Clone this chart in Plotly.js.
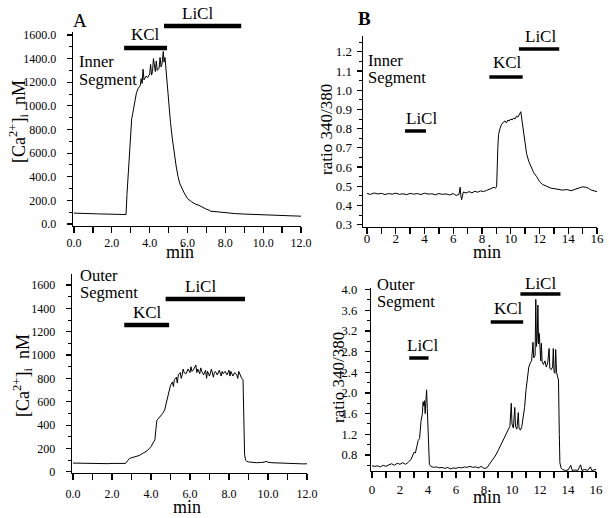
<!DOCTYPE html>
<html>
<head>
<meta charset="utf-8">
<script src="https://cdn.plot.ly/plotly-3.0.1.min.js"></script>
<style>html,body{margin:0;padding:0;background:#fff;}#chart{width:609px;height:518px;}</style>
</head>
<body>
<div id="chart"></div>
<script>
// ---------- DATA ----------
// Panel A, inner segment: time (min) and [Ca2+]i (nM)
const tInnerA = [0,0.2,0.4,0.6,0.8,1.0,1.2,1.4,1.6,1.8,2.0,2.2,2.4,2.6,2.75,2.8,2.9,3.0,3.05,3.1,3.2,3.3,3.4,3.5,3.55,3.6,3.65,3.7,3.8,3.9,4.0,4.05,4.1,4.15,4.2,4.3,4.35,4.4,4.5,4.55,4.6,4.65,4.72,4.76,4.81,4.86,4.9,5.0,5.1,5.2,5.3,5.4,5.5,5.6,5.8,6.0,6.2,6.4,6.6,6.8,7.0,7.15,7.2,7.4,7.6,7.8,8.0,8.5,9.0,9.5,10.0,10.5,11.0,11.5,12.0];
const caInnerA = [92,90,89,88,88,86,86,85,84,84,83,82,81,80,80,250,520,760,890,930,1030,1110,1150,1170,1230,1190,1310,1220,1250,1240,1270,1350,1260,1290,1400,1290,1380,1300,1320,1410,1330,1350,1460,1370,1410,1300,1250,1060,860,720,590,490,400,340,270,215,190,170,158,140,125,118,108,106,102,98,94,88,84,80,76,73,70,68,66];

// Panel A, outer segment
const tOuterA = [0,0.2,0.4,0.6,0.8,1.0,1.2,1.4,1.6,1.8,2.0,2.2,2.4,2.6,2.7,2.8,2.9,3.0,3.2,3.4,3.6,3.8,4.0,4.1,4.2,4.25,4.3,4.4,4.5,4.6,4.7,4.8,4.9,5.0,5.1,5.15,5.2,5.3,5.35,5.4,5.5,5.55,5.6,5.65,5.7,5.8,5.9,6.0,6.05,6.1,6.2,6.3,6.35,6.4,6.5,6.55,6.6,6.7,6.8,6.85,6.9,7.0,7.1,7.2,7.25,7.3,7.4,7.5,7.6,7.65,7.7,7.8,7.9,8.0,8.05,8.1,8.2,8.3,8.4,8.45,8.5,8.6,8.65,8.72,8.76,8.8,8.85,8.9,9.0,9.2,9.4,9.6,9.8,9.9,10.0,10.2,10.4,10.6,10.8,11.0,11.2,11.4,11.6,11.8,12.0];
const caOuterA = [75,74,72,73,70,71,68,66,69,70,72,71,73,72,72,95,115,120,130,140,160,180,215,240,275,360,440,460,480,500,530,600,690,740,770,730,790,810,760,830,850,800,830,880,850,840,880,850,900,860,880,915,850,880,840,890,860,830,870,800,860,820,880,810,850,860,830,870,820,860,840,860,830,870,820,860,820,850,830,800,860,820,800,790,400,150,100,92,85,80,78,80,82,90,82,78,76,74,72,73,70,69,70,68,69];

// Panel B, inner segment: ratio 340/380
const tInnerB = [0,0.25,0.5,0.75,1.0,1.25,1.5,1.75,2.0,2.25,2.5,2.75,3.0,3.25,3.5,3.75,4.0,4.25,4.5,4.75,5.0,5.25,5.5,5.75,6.0,6.2,6.4,6.48,6.53,6.58,6.7,6.9,7.1,7.3,7.5,7.7,7.9,8.1,8.3,8.5,8.7,8.85,8.95,9.02,9.1,9.15,9.25,9.35,9.5,9.6,9.7,9.8,9.9,10.0,10.1,10.2,10.3,10.4,10.5,10.6,10.7,10.75,10.85,10.95,11.1,11.25,11.4,11.6,11.8,12.0,12.2,12.5,12.8,13.0,13.3,13.6,13.9,14.2,14.5,14.8,15.0,15.2,15.4,15.6,15.8,16.0];
const rInnerB = [0.462,0.458,0.465,0.460,0.463,0.457,0.462,0.459,0.464,0.458,0.461,0.456,0.463,0.459,0.462,0.457,0.464,0.459,0.461,0.456,0.462,0.458,0.460,0.455,0.462,0.452,0.458,0.495,0.450,0.430,0.470,0.465,0.472,0.466,0.474,0.469,0.476,0.472,0.478,0.483,0.490,0.495,0.490,0.500,0.700,0.770,0.800,0.820,0.835,0.840,0.830,0.845,0.840,0.850,0.845,0.855,0.850,0.865,0.860,0.875,0.888,0.860,0.800,0.730,0.670,0.630,0.600,0.570,0.550,0.525,0.510,0.500,0.490,0.488,0.485,0.480,0.483,0.477,0.485,0.490,0.497,0.495,0.490,0.480,0.475,0.472];

// Panel B, outer segment
const tOuterB = [0,0.2,0.4,0.6,0.8,1.0,1.2,1.4,1.6,1.8,2.0,2.2,2.4,2.6,2.8,3.0,3.1,3.2,3.3,3.4,3.5,3.6,3.65,3.7,3.75,3.8,3.85,3.9,3.95,4.0,4.05,4.1,4.2,4.4,4.6,4.8,5.0,5.2,5.4,5.6,5.8,6.0,6.2,6.4,6.6,6.8,7.0,7.2,7.4,7.6,7.8,8.0,8.2,8.4,8.6,8.8,9.0,9.2,9.4,9.6,9.75,9.85,9.95,10.0,10.1,10.2,10.25,10.35,10.45,10.5,10.6,10.7,10.8,10.9,11.0,11.1,11.2,11.3,11.4,11.5,11.55,11.65,11.7,11.75,11.8,11.85,11.9,11.95,12.05,12.1,12.15,12.25,12.35,12.45,12.55,12.65,12.7,12.8,12.9,12.95,13.0,13.07,13.12,13.18,13.25,13.32,13.38,13.42,13.5,13.6,13.8,14.0,14.2,14.3,14.5,14.7,14.9,15.0,15.2,15.4,15.6,15.7,16.0];
const rOuterB = [0.59,0.58,0.59,0.57,0.60,0.58,0.61,0.63,0.60,0.64,0.62,0.65,0.62,0.66,0.72,0.85,0.84,0.98,1.08,1.12,1.45,1.60,1.83,1.75,1.85,1.60,1.85,2.06,1.70,1.15,0.80,0.62,0.58,0.56,0.57,0.55,0.56,0.54,0.56,0.53,0.55,0.54,0.56,0.55,0.57,0.56,0.58,0.56,0.57,0.55,0.58,0.54,0.55,0.62,0.70,0.78,0.88,1.00,1.12,1.22,1.30,1.35,1.80,1.40,1.32,1.72,1.35,1.30,1.62,1.32,1.28,1.35,1.50,1.72,2.05,2.35,2.50,2.58,2.62,2.98,2.68,2.72,3.81,2.90,3.05,3.70,2.95,3.15,2.62,2.96,2.60,2.55,2.62,2.50,2.58,2.86,2.48,2.45,2.50,2.86,2.42,2.38,2.84,2.40,2.32,2.25,1.20,0.65,0.55,0.52,0.50,0.51,0.60,0.50,0.51,0.50,0.61,0.50,0.52,0.50,0.57,0.50,0.52];

// Treatment periods (min) for each panel
const barsInnerA = [{label:'KCl', t0:2.65, t1:4.92}, {label:'LiCl', t0:4.76, t1:8.84}];
const barsOuterA = [{label:'KCl', t0:2.63, t1:4.93}, {label:'LiCl', t0:4.75, t1:8.82}];
const barsInnerB = [{label:'LiCl', t0:2.64, t1:4.10}, {label:'KCl', t0:8.51, t1:10.83}, {label:'LiCl', t0:10.57, t1:13.37}];
const barsOuterB = [{label:'LiCl', t0:2.66, t1:4.04}, {label:'KCl', t0:8.48, t1:10.80}, {label:'LiCl', t0:10.60, t1:13.46}];

// ---------- LAYOUT ----------
const W = 609, H = 518;
const FONT = '"Liberation Serif", "DejaVu Serif", serif';
const px = x => x / W;
const py = y => 1 - y / H;

function trace(x, y, xa, ya) {
  return {x: x, y: y, xaxis: xa, yaxis: ya, type: 'scatter', mode: 'lines',
          line: {color: '#000', width: 1}, hoverinfo: 'skip', showlegend: false};
}
const data = [
  trace(tInnerA, caInnerA, 'x', 'y'),
  trace(tOuterA, caOuterA, 'x2', 'y2'),
  trace(tInnerB, rInnerB, 'x3', 'y3'),
  trace(tOuterB, rOuterB, 'x4', 'y4')
];

function xax(domain, range, anchor, dtick, fmt, minorD, standoff, fs) {
  return {domain: domain, range: range, anchor: anchor, showline: true, linecolor: '#000', linewidth: 1.3,
    ticks: 'outside', ticklen: 6, tickwidth: 1.3, tickcolor: '#000', tick0: 0, dtick: dtick,
    tickformat: fmt, showgrid: false, zeroline: false, ticklabelstandoff: standoff,
    tickfont: {family: FONT, size: fs, color: '#000'},
    minor: {dtick: minorD, tick0: 0, ticks: 'outside', ticklen: 6, tickwidth: 1.3, tickcolor: '#000', showgrid: false}};
}
function yax(domain, range, anchor, tick0, dtick, fmt, minorD, standoff, fs) {
  return {domain: domain, range: range, anchor: anchor, showline: true, linecolor: '#000', linewidth: 1.3,
    ticks: 'outside', ticklen: 5, tickwidth: 1.2, tickcolor: '#000', tick0: tick0, dtick: dtick,
    tickformat: fmt, showgrid: false, zeroline: false, ticklabelstandoff: standoff,
    tickfont: {family: FONT, size: fs, color: '#000'},
    minor: {dtick: minorD, tick0: tick0, ticks: 'outside', ticklen: 3, tickwidth: 1, tickcolor: '#000', showgrid: false}};
}

const layout = {
  width: W, height: H, margin: {l: 0, r: 0, t: 0, b: 0},
  paper_bgcolor: '#fff', plot_bgcolor: 'rgba(0,0,0,0)', showlegend: false,
  font: {family: FONT, color: '#000'},
  xaxis:  xax([px(73), px(301)], [-0.053, 12.0], 'y', 2, '.1f', 1, -1, 12),
  yaxis:  yax([py(226), py(32)], [-17, 1625], 'x', 0, 200, '.1f', 100, 8, 12),
  xaxis2: xax([px(72), px(307)], [-0.05, 12.0], 'y2', 2, '.1f', 1, 3, 12),
  yaxis2: yax([py(473), py(274)], [-10, 1694], 'x2', 0, 200, 'd', 100, 8, 12),
  xaxis3: xax([px(363), px(597)], [-0.28, 16.0], 'y3', 2, 'd', 1, -7, 13),
  yaxis3: yax([py(227), py(36)], [0.288, 1.282], 'x3', 0.3, 0.1, '.1f', 0.05, 2, 13),
  xaxis4: xax([px(371), px(596)], [-0.07, 16.0], 'y4', 2, 'd', 1, 0, 13),
  yaxis4: yax([py(471), py(288)], [0.49, 4.03], 'x4', 0.8, 0.4, '.1f', 0.2, 5, 12.5),
  shapes: [],
  annotations: []
};

function addBars(bars, xref, levels, w) {
  bars.forEach((b, i) => {
    layout.shapes.push({type: 'line', xref: xref, yref: 'paper', x0: b.t0, x1: b.t1,
      y0: py(levels[i]), y1: py(levels[i]), line: {color: '#000', width: w}});
  });
}
addBars(barsInnerA, 'x', [48, 26], 4.5);
addBars(barsOuterA, 'x2', [325, 299], 4.5);
addBars(barsInnerB, 'x3', [131, 77, 49], 3.5);
addBars(barsOuterB, 'x4', [358, 322, 294], 3.5);

function txt(text, x, y, size, opts) {
  layout.annotations.push(Object.assign({text: text, x: px(x), y: py(y), xref: 'paper', yref: 'paper',
    showarrow: false, xanchor: 'center', yanchor: 'middle',
    font: {family: FONT, size: size, color: '#000'}}, opts || {}));
}
// bar labels
txt(barsInnerA[0].label, 145, 35, 17);
txt(barsInnerA[1].label, 197, 14, 17);
txt(barsOuterA[0].label, 147, 312, 17);
txt(barsOuterA[1].label, 200, 286, 17);
txt(barsInnerB[0].label, 421, 118, 17);
txt(barsInnerB[1].label, 507, 63, 17);
txt(barsInnerB[2].label, 540, 37, 17);
txt(barsOuterB[0].label, 422, 345, 17);
txt(barsOuterB[1].label, 508, 308, 17);
txt(barsOuterB[2].label, 540, 283, 17);
// segment labels
txt('Inner', 77, 62, 16.5, {xanchor: 'left'});
txt('Segment', 77, 79, 16.5, {xanchor: 'left'});
txt('Outer', 78, 275, 16.5, {xanchor: 'left'});
txt('Segment', 78, 292, 16.5, {xanchor: 'left'});
txt('Inner', 366, 61, 16.5, {xanchor: 'left'});
txt('Segment', 366, 77, 16.5, {xanchor: 'left'});
txt('Outer', 375, 284, 16.5, {xanchor: 'left'});
txt('Segment', 375, 301, 16.5, {xanchor: 'left'});
// panel letters
txt('A', 80, 20, 19);
txt('<b>B</b>', 364, 18, 19);
// axis titles
txt('min', 180, 252, 18);
txt('min', 187, 507, 18);
txt('min', 487, 252, 18);
txt('min', 487, 497, 18);
txt('[Ca<sup>2+</sup>]<sub>i</sub>  nM', 19, 122, 18, {textangle: -90});
txt('[Ca<sup>2+</sup>]<sub>i</sub>  nM', 22, 376, 18, {textangle: -90});
txt('ratio 340/380', 327, 130, 17, {textangle: -90});
txt('ratio 340/380', 338, 378, 17, {textangle: -90});

Plotly.newPlot('chart', data, layout, {staticPlot: true, displayModeBar: false});
</script>
</body>
</html>
